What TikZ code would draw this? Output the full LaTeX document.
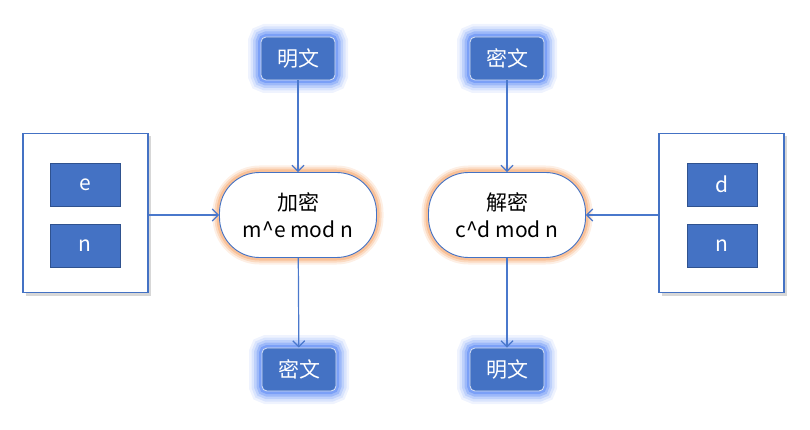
\documentclass[tikz,border=0pt]{standalone}
\usepackage{fontspec}
\setmainfont{Noto Sans CJK SC}
\usetikzlibrary{arrows.meta,positioning,shadows}

\definecolor{boxblue}{HTML}{4472C4}
\definecolor{linkblue}{HTML}{4A78CC}
\definecolor{edgeblue}{HTML}{2F528F}
\definecolor{glowblue}{HTML}{5F8CF5}
\definecolor{gloworange}{HTML}{F6A86E}

\tikzset{
  blueglow/.style={
    preaction={draw=glowblue, line width=26pt, opacity=0.10},
    preaction={draw=glowblue, line width=21pt, opacity=0.15},
    preaction={draw=glowblue, line width=16pt, opacity=0.22},
    preaction={draw=glowblue, line width=11pt, opacity=0.35},
    preaction={draw=glowblue, line width=6pt, opacity=0.55}},
  orangeglow/.style={
    preaction={draw=gloworange, line width=14pt, opacity=0.18},
    preaction={draw=gloworange, line width=10pt, opacity=0.30},
    preaction={draw=gloworange, line width=6pt, opacity=0.50}},
  textbox/.style={rectangle, rounded corners=5pt, blueglow, fill=boxblue,
    draw=white!80!boxblue, line width=0.8pt, text=white,
    minimum width=74pt, minimum height=43pt},
  process/.style={rectangle, rounded corners=40pt, orangeglow, fill=white,
    draw=boxblue, line width=0.9pt, align=center,
    minimum width=157pt, minimum height=85pt},
  keybox/.style={rectangle, draw=boxblue, line width=1.8pt, fill=white,
    drop shadow={shadow xshift=3pt, shadow yshift=-3pt, fill=gray!45, opacity=0.7},
    minimum width=125pt, minimum height=159pt},
  keyitem/.style={rectangle, fill=boxblue, draw=edgeblue, line width=0.6pt,
    text=white, minimum width=70pt, minimum height=43pt},
  link/.style={draw=linkblue, line width=1.2pt, ->}
}

\begin{document}
\begin{tikzpicture}[x=1pt, y=-1pt, font=\fontsize{21}{27}\selectfont,
    >={Straight Barb[length=6pt,width=12pt]}]
  \useasboundingbox (0,0) rectangle (810,430);

  % ── Key boxes ─────────────────────────────────────────────────────────
  \node[keybox] (pubkey) at (85.5,213) {};
  \node[keyitem] (kE) at (85,184.5) {e};
  \node[keyitem] (kN) at (85,246) {n};

  \node[keybox] (privkey) at (721.5,213) {};
  \node[keyitem] (kD) at (722,184.5) {d};
  \node[keyitem] (kM) at (722,246) {n};

  % ── Encrypt / decrypt ─────────────────────────────────────────────────
  \node[process] (enc) at (298,215) {加密\\m\textasciicircum e mod n};
  \node[process] (dec) at (507,215) {解密\\c\textasciicircum d mod n};

  % ── Plain and cipher texts ────────────────────────────────────────────
  \node[textbox] (plainIn)   at (298,58.5)  {明文};
  \node[textbox] (cipherIn)  at (507,58.5)  {密文};
  \node[textbox] (cipherOut) at (299,369.5) {密文};
  \node[textbox] (plainOut)  at (507,369.5) {明文};

  % ── Connectors ────────────────────────────────────────────────────────
  \draw[link] (plainIn) -- (enc);
  \draw[link] (pubkey.east |- enc.west) -- (enc.west);
  \draw[link] (enc) -- (cipherOut);
  \draw[link] (cipherIn) -- (dec);
  \draw[link] (privkey.west |- dec.east) -- (dec.east);
  \draw[link] (dec) -- (plainOut);

\end{tikzpicture}
\end{document}
